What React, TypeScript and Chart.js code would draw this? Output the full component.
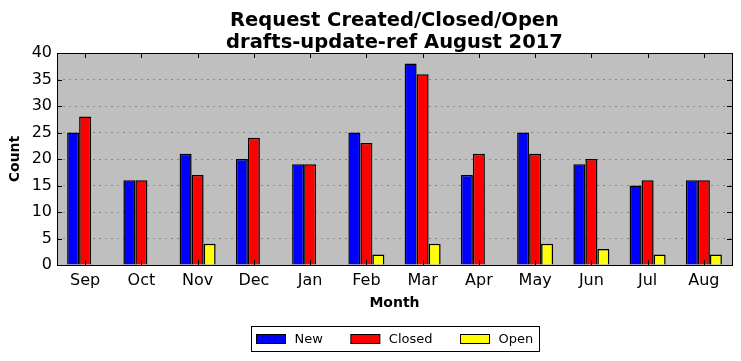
import React, { useEffect, useRef } from "react";
import { Chart, registerables } from "chart.js";

Chart.register(...registerables);

const months = ["Sep", "Oct", "Nov", "Dec", "Jan", "Feb", "Mar", "Apr", "May", "Jun", "Jul", "Aug"];
const newCounts = [25, 16, 21, 20, 19, 25, 38, 17, 25, 19, 15, 16];
const closedCounts = [28, 16, 17, 24, 19, 23, 36, 21, 21, 20, 16, 16];
const openCounts = [0, 0, 4, 0, 0, 2, 4, 0, 4, 3, 2, 2];
const titleLines = ["Request Created/Closed/Open", "drafts-update-ref August 2017"];

const FONT = "'DejaVu Sans', sans-serif";

const framePlugin = {
  id: "frame",
  beforeDraw(chart: any) {
    const { ctx, chartArea: a } = chart;
    ctx.save();
    ctx.fillStyle = "#bfbfbf";
    ctx.fillRect(a.left, a.top, a.right - a.left, a.bottom - a.top);
    ctx.restore();
  },
  afterDraw(chart: any) {
    const { ctx, chartArea: a } = chart;
    const x = chart.scales.x;
    const y = chart.scales.y;
    ctx.save();
    // title, centred over the plot area
    ctx.fillStyle = "#000";
    ctx.font = "bold 19.5px " + FONT;
    ctx.textAlign = "center";
    ctx.textBaseline = "alphabetic";
    const cx = (a.left + a.right) / 2;
    titleLines.forEach((t, i) => ctx.fillText(t, cx, 25.5 + i * 22));

    ctx.strokeStyle = "#000";
    ctx.lineWidth = 1;
    ctx.beginPath();
    y.ticks.forEach((t: any, i: number) => {
      const py = Math.round(y.getPixelForTick(i)) + 0.5;
      ctx.moveTo(a.left, py);
      ctx.lineTo(a.left + 5, py);
      ctx.moveTo(a.right, py);
      ctx.lineTo(a.right - 5, py);
    });
    x.ticks.forEach((t: any, i: number) => {
      const px = Math.round(x.getPixelForTick(i)) + 0.5;
      ctx.moveTo(px, a.top);
      ctx.lineTo(px, a.top + 5);
      ctx.moveTo(px, a.bottom);
      ctx.lineTo(px, a.bottom - 5);
    });
    ctx.stroke();
    ctx.strokeRect(Math.round(a.left) + 0.5, Math.round(a.top) + 0.5, Math.round(a.right - a.left), Math.round(a.bottom - a.top));

    // legend
    const ds = chart.data.datasets;
    ctx.font = "13px " + FONT;
    const padL = 5, padR = 6, sw = 29, sh = 9, gap = 9, itemGap = 28;
    const widths = ds.map((d: any) => ctx.measureText(d.label).width);
    let total = padL + padR;
    widths.forEach((w: number, i: number) => {
      total += sw + gap + w + (i < widths.length - 1 ? itemGap : 0);
    });
    const bx = Math.round(cx - total / 2) + 0.5;
    const by = 326.5;
    const bh = 25;
    ctx.fillStyle = "#fff";
    ctx.fillRect(bx, by, total, bh);
    ctx.strokeStyle = "#000";
    ctx.strokeRect(bx, by, Math.round(total), bh);
    let px = bx + padL;
    ds.forEach((d: any, i: number) => {
      ctx.fillStyle = d.backgroundColor;
      ctx.fillRect(px, by + 8, sw, sh);
      ctx.strokeStyle = "#000";
      ctx.strokeRect(px, by + 8, sw, sh);
      px += sw + gap;
      ctx.fillStyle = "#000";
      ctx.textBaseline = "middle";
      ctx.textAlign = "left";
      ctx.fillText(d.label, px, by + bh / 2 + 0.5);
      px += widths[i] + itemGap;
    });
    ctx.restore();
  },
};

export default function App() {
  const ref = useRef<HTMLCanvasElement>(null);
  useEffect(() => {
    const mk = (label: string, data: number[], color: string) => ({
      label,
      data,
      backgroundColor: color,
      borderColor: "#000",
      borderWidth: 1.5,
      borderSkipped: "bottom" as const,
      categoryPercentage: 0.64,
      barPercentage: 1.0,
    });
    const chart = new Chart(ref.current!, {
      type: "bar",
      data: {
        labels: months,
        datasets: [
          mk("New", newCounts, "#0000ff"),
          mk("Closed", closedCounts, "#ff0000"),
          mk("Open", openCounts, "#ffff00"),
        ],
      },
      options: {
        animation: false,
        responsive: false,
        layout: { padding: { left: 0, right: 9, top: 53, bottom: 49 } },
        plugins: {
          legend: { display: false },
          tooltip: { enabled: false },
          title: { display: false },
        },
        scales: {
          x: {
            afterFit: (s: any) => { s.height = 47; },
            grid: { display: false, drawTicks: false },
            border: { display: false },
            ticks: { color: "#000", font: { family: FONT, size: 16 }, padding: 6, maxRotation: 0 },
            title: {
              display: true,
              text: "Month",
              color: "#000",
              font: { family: FONT, size: 14, weight: "bold", lineHeight: 1.2 },
              padding: { top: 0, bottom: 0 },
            },
          },
          y: {
            min: 0,
            max: 40,
            afterFit: (s: any) => { s.width = 57; },
            grid: { color: "#888888", lineWidth: 1, drawTicks: false },
            border: { display: false, dash: [2, 4] },
            ticks: { stepSize: 5, color: "#000", font: { family: FONT, size: 16 }, padding: 5 },
            title: {
              display: true,
              text: "Count",
              color: "#000",
              font: { family: FONT, size: 14, weight: "bold", lineHeight: 1.2 },
              padding: { top: 7, bottom: 0 },
            },
          },
        },
      },
      plugins: [framePlugin],
    });
    return () => chart.destroy();
  }, []);
  return (
    <div style={{ position: "fixed", left: 0, top: 0, width: 741, height: 361, background: "#fff" }}>
      <canvas ref={ref} width={741} height={361} style={{ display: "block" }} />
    </div>
  );
}
